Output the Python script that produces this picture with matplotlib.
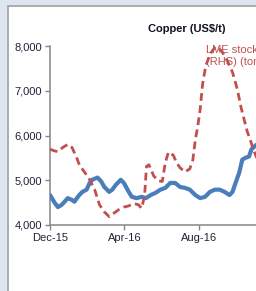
import numpy as np
import pandas as pd
import matplotlib
matplotlib.use('Agg')
from matplotlib import pyplot as plt
import matplotlib.dates as mdates
from matplotlib.patches import Rectangle

# copper price (US$/t), LHS
price_dates = ['2015-12-01','2015-12-09','2015-12-14','2015-12-20','2015-12-25','2015-12-30',
               '2016-01-06','2016-01-10','2016-01-14','2016-01-18','2016-01-23','2016-01-30',
               '2016-02-04','2016-02-08','2016-02-17','2016-02-23','2016-02-28',
               '2016-03-07','2016-03-12','2016-03-18','2016-03-26','2016-03-31',
               '2016-04-08','2016-04-13','2016-04-21','2016-04-29',
               '2016-05-06','2016-05-14','2016-05-22','2016-05-30',
               '2016-06-07','2016-06-15','2016-06-23','2016-07-01','2016-07-09','2016-07-17','2016-07-26',
               '2016-08-03','2016-08-11','2016-08-19','2016-08-27',
               '2016-09-04','2016-09-12','2016-09-20','2016-09-25','2016-09-30',
               '2016-10-06','2016-10-11','2016-10-16','2016-10-22','2016-10-26','2016-10-29','2016-11-04']
price = [4670, 4490, 4400, 4450, 4520, 4600,
         4560, 4520, 4600, 4670, 4740, 4790,
         4940, 5010, 5060, 4970, 4850,
         4740, 4790, 4900, 5010, 4940,
         4740, 4630, 4600, 4630,
         4600, 4670, 4720, 4790,
         4830, 4940, 4940, 4850, 4830, 4790, 4670,
         4600, 4630, 4740, 4790,
         4790, 4740, 4670, 4740, 4940,
         5170, 5460, 5500, 5530, 5690, 5730, 5800]

# LME stocks (tonnes), RHS
stock_dates = ['2015-12-01','2015-12-09','2015-12-14','2015-12-22','2015-12-30',
               '2016-01-06','2016-01-14','2016-01-18','2016-01-27',
               '2016-02-04','2016-02-12','2016-02-20','2016-02-28',
               '2016-03-07','2016-03-15','2016-03-23','2016-03-31',
               '2016-04-08','2016-04-16','2016-04-24','2016-04-29',
               '2016-05-04','2016-05-07','2016-05-11','2016-05-19','2016-05-27',
               '2016-06-02','2016-06-07','2016-06-12','2016-06-20','2016-06-25',
               '2016-07-01','2016-07-09','2016-07-17','2016-07-22','2016-07-26','2016-07-30',
               '2016-08-03','2016-08-07','2016-08-12','2016-08-19','2016-08-28',
               '2016-09-07','2016-09-17','2016-09-25',
               '2016-10-03','2016-10-09','2016-10-14','2016-10-19','2016-10-24','2016-10-29','2016-11-04']
stocks = [227000, 224000, 223000, 230000, 235000,
          230000, 212000, 201000, 188000,
          176000, 160000, 134000, 122000,
          114000, 120000, 126000, 130000,
          132000, 136000, 134000, 128000,
          149000, 198000, 201000, 182000, 174000,
          173000, 205000, 222000, 217000, 205000,
          196000, 189000, 194000, 209000, 242000, 265000,
          294000, 336000, 366000, 386000, 399000,
          392000, 374000, 356000,
          327000, 297000, 277000, 257000, 243000, 227000, 212000]

yticks = [4000, 5000, 6000, 7000, 8000]
xticks = ['2015-12-01', '2016-04-01', '2016-08-01']

blue = '#4a7ebb'
red = '#c0504d'
txt = '#22223a'

plt.rcParams['font.family'] = ['Liberation Sans', 'DejaVu Sans']

fig = plt.figure(figsize=(2.56, 2.91), dpi=100)
fig.patch.set_facecolor('#dde5ef')
fig.patches.append(Rectangle((8/256, -0.1), 1.2, (291-6)/291 + 0.1, transform=fig.transFigure,
                             facecolor='white', edgecolor='#a6a6a6', linewidth=1.3, zorder=-1))

ax = fig.add_axes([50/256, 66/291, 235/256, 179/291])
ax.patch.set_alpha(0)
ax2 = ax.twinx()

ax.plot(pd.to_datetime(price_dates), price, color=blue, lw=3.0, solid_capstyle='round', zorder=3)
ax2.plot(pd.to_datetime(stock_dates), stocks, color=red, lw=2.0, ls=(0, (2.8, 1.6)), zorder=3)

ax.set_ylim(4000, 8000)
ax2.set_ylim(100000, 400000)
ax.set_xlim(pd.Timestamp('2015-12-01'), pd.Timestamp('2016-12-20'))
ax.set_yticks(yticks)
ax.set_yticklabels(['{:,}'.format(v) for v in yticks])
ax.set_xticks(pd.to_datetime(xticks))
ax.xaxis.set_major_formatter(mdates.DateFormatter('%b-%y'))

for a in (ax, ax2):
    for s in ['top', 'right']:
        a.spines[s].set_visible(False)
ax2.spines['left'].set_visible(False)
ax2.spines['bottom'].set_visible(False)
ax2.set_yticks([])
for s in ['left', 'bottom']:
    ax.spines[s].set_color('#868686')
    ax.spines[s].set_linewidth(1.1)
ax.tick_params(colors='#868686', labelcolor=txt, labelsize=8, length=3.5, width=1.0, pad=2)

fig.text(187/256, 1 - 29/291, 'Copper (US$/t)', ha='center', va='center',
         fontsize=8, fontweight='bold', color='#111122')
ax2.text(206/256, 1 - 56/291, 'LME stocks\n(RHS) (tonnes)', transform=fig.transFigure,
         ha='left', va='center', fontsize=8, color=red, linespacing=1.2, zorder=1, clip_on=False)

fig.savefig('out.png', dpi=100, facecolor=fig.get_facecolor())
